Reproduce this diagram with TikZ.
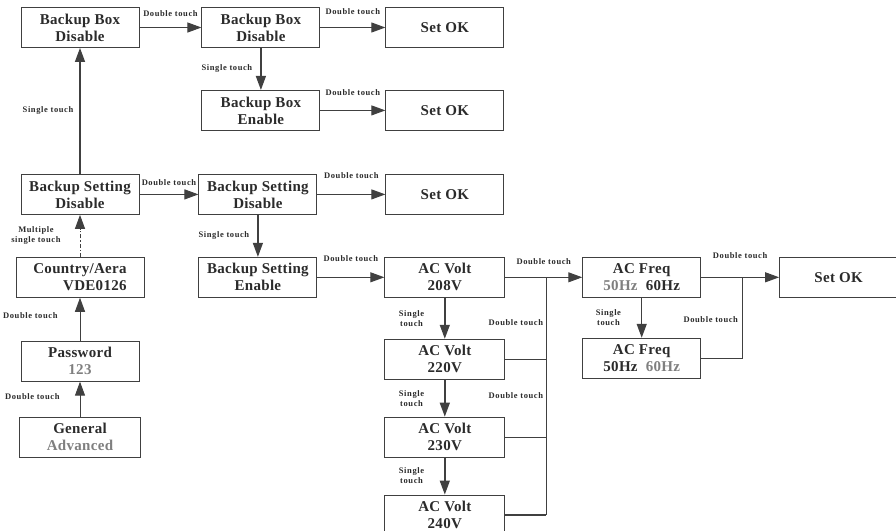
\documentclass[tikz,border=0pt]{standalone}
\usepackage{fontspec}
\setmainfont{Liberation Serif}
\newfontfamily\menufont[LetterSpace=2]{Liberation Serif}
\newfontfamily\notefont[LetterSpace=7]{Liberation Serif}
\usetikzlibrary{arrows.meta,positioning}
\definecolor{menuline}{HTML}{404040}
\definecolor{menutext}{HTML}{2B2B2B}
\definecolor{menugray}{HTML}{7F7F7F}

\begin{document}
\begin{tikzpicture}[x=1pt,y=1pt,
  menu/.style={draw=menuline,line width=0.9pt,minimum width=118pt,minimum height=40pt,inner sep=1pt,align=center,text=menutext,font=\menufont\bfseries\fontsize{15}{17}\selectfont},
  note/.style={inner sep=0pt,align=center,text=menutext,font=\notefont\bfseries\fontsize{8.5}{10}\selectfont},
  arrow/.style={-{Triangle[length=14pt,width=10pt]},line width=1pt,draw=menuline},
  downarrow/.style={arrow,line width=1.4pt},
  bus/.style={line width=1pt,draw=menuline}
]
\useasboundingbox (0,0) rectangle (896,-531);
\clip (0,0) rectangle (896,-530);

% backup box branch
\node[menu] (bbdA) at (80,-27.5) {Backup Box\\Disable};
\node[menu,right=62pt of bbdA] (bbdB) {Backup Box\\Disable};
\node[menu,right=65pt of bbdB] (okA) {Set OK};
\node[menu,below=42pt of bbdB] (bbeB) {Backup Box\\Enable};
\node[menu,below=42pt of okA] (okB) {Set OK};

% backup setting branch
\node[menu,below=126pt of bbdA] (bsdA) {Backup Setting\\Disable};
\node[menu,right=59pt of bsdA] (bsdB) {Backup Setting\\Disable};
\node[menu,right=68pt of bsdB] (okC) {Set OK};
\node[menu,below=42pt of bsdB] (bseB) {Backup Setting\\Enable};

% voltage and frequency
\node[menu,minimum width=120pt,right=67pt of bseB] (v208) {AC Volt\\208V};
\node[menu,minimum width=120pt,below=41pt of v208] (v220) {AC Volt\\220V};
\node[menu,minimum width=120pt,below=37pt of v220] (v230) {AC Volt\\230V};
\node[menu,minimum width=120pt,below=37pt of v230] (v240) {AC Volt\\240V};
\node[menu,right=77pt of v208] (fq60) {AC Freq\\{\color{menugray}50Hz}\ \ 60Hz};
\node[menu,below=40pt of fq60] (fq50) {AC Freq\\50Hz\ \ {\color{menugray}60Hz}};
\node[menu,right=78pt of fq60] (okD) {Set OK};

% entry path
\node[menu,minimum width=128pt,align=right,below=42pt of bsdA] (area) {Country/Aera\\VDE0126};
\node[menu,below=43pt of area] (pwd) {Password\\{\color{menugray}123}};
\node[menu,minimum width=121pt,below=35pt of pwd] (gen) {General\\{\color{menugray}Advanced}};

\draw[arrow] (gen) -- node[note,left=20pt,yshift=3pt] (dH) {Double touch} (pwd);
\draw[arrow] (pwd) -- node[note,left=22pt,yshift=4pt] (dG) {Double touch} (area);
\draw[arrow,dash pattern=on 4pt off 2pt on 1.2pt off 2pt] (area) -- node[note,left=19pt] (mA) {Multiple\\single touch} (bsdA);
\draw[downarrow] (bsdA) -- node[note,left=6pt] (sB) {Single touch} (bbdA);

\draw[arrow] (bbdA) -- node[note,above=10pt] (dA) {Double touch} (bbdB);
\draw[arrow] (bbdB) -- node[note,above=12pt] (dB) {Double touch} (okA);
\draw[downarrow] (bbdB) -- node[note,left=8pt] (sA) {Single touch} (bbeB);
\draw[arrow] (bbeB) -- node[note,above=14pt] (dC) {Double touch} (okB);

\draw[arrow] (bsdA) -- node[note,above=8.5pt] (dD) {Double touch} (bsdB);
\draw[arrow] (bsdB) -- node[note,above=15.5pt] (dE) {Double touch} (okC);
\draw[downarrow] (bsdB) -- node[note,left=8pt] (sC) {Single touch} (bseB);
\draw[arrow] (bseB) -- node[note,above=15.5pt] (dF) {Double touch} (v208);

\draw[downarrow] (v208) -- node[note,left=20pt] (sD) {Single\\touch} (v220);
\draw[downarrow] (v220) -- node[note,left=20pt] (sE) {Single\\touch} (v230);
\draw[downarrow] (v230) -- node[note,left=20pt] (sF) {Single\\touch} (v240);
\coordinate[right=41pt of v208.east] (voltbus);
\draw[arrow] (v208) -- node[note,above=12.5pt] (dI) {Double touch} (fq60);
\draw[bus] (v220.east) -- (v220.east -| voltbus);
\draw[bus] (v230.east) -- (v230.east -| voltbus);
\draw[bus] (voltbus) -- (voltbus |- v240.east);
\draw[bus,line width=1.5pt] (v240.east) -- (voltbus |- v240.east);
\node[note,left=3pt of voltbus,yshift=-45pt] (dJ) {Double touch};
\node[note,left=3pt of voltbus,yshift=-118pt] (dK) {Double touch};

\draw[downarrow] (fq60) -- node[note,left=20pt] (sG) {Single\\touch} (fq50);
\coordinate[right=41pt of fq60.east] (freqbus);
\draw[arrow] (fq60) -- node[note,above=18.5pt] (dL) {Double touch} (okD);
\draw[bus] (fq50.east) -| (freqbus);
\node[note,left=4pt of freqbus,yshift=-42pt] (dM) {Double touch};
\end{tikzpicture}
\end{document}
